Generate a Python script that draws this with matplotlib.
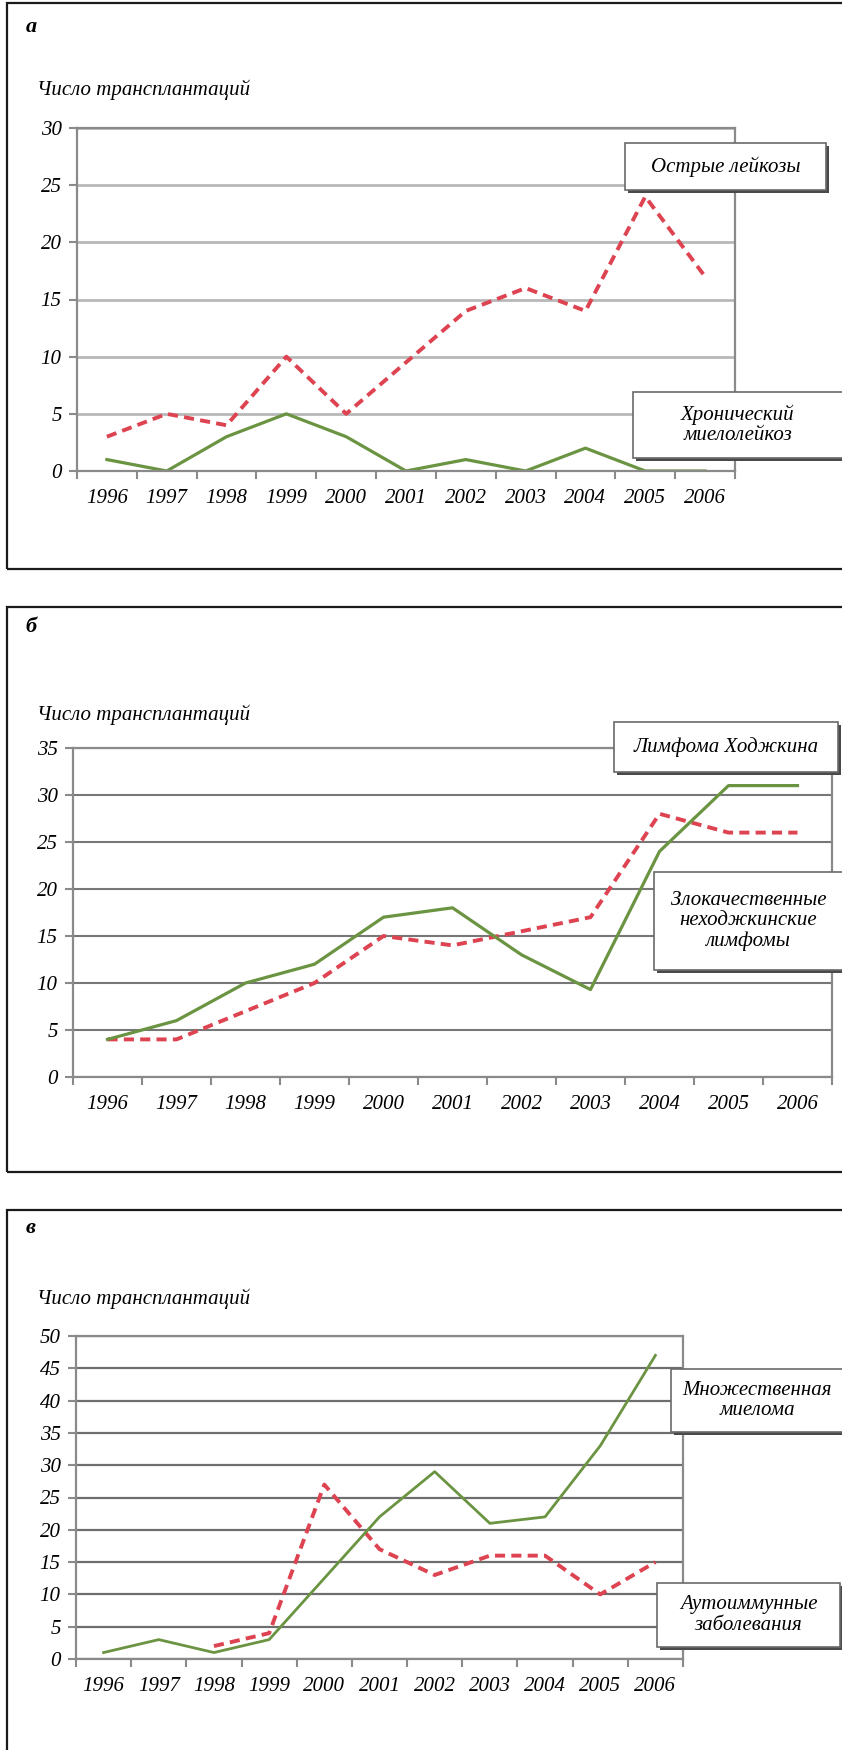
import numpy as np
import matplotlib
matplotlib.use("Agg")
import matplotlib.pyplot as plt
from matplotlib.patches import Rectangle

W, H = 842, 1750
DPI = 100

years = ["1996", "1997", "1998", "1999", "2000", "2001",
         "2002", "2003", "2004", "2005", "2006"]

# panel a
acute_leukemia = [3, 5, 4, 10, 5, 9.5, 14, 16, 14, 24, 17]
cml = [1, 0, 3, 5, 3, 0, 1, 0, 2, 0, 0]
# panel b
hodgkin = [4, 6, 10, 12, 17, 18, 13, 9.3, 24, 31, 31]
nhl = [4, 4, 7, 10, 15, 14, 15.5, 17, 28, 26, 26]
# panel c
myeloma = [1, 3, 1, 3, 12.5, 22, 29, 21, 22, 33, 47]
autoimmune = [np.nan, np.nan, 2, 4, 27, 17, 13, 16, 16, 10, 15]

RED = "#dd4350"
GREEN = "#6b9442"
SERIF = "Liberation Serif"

fig = plt.figure(figsize=(W / DPI, H / DPI), dpi=DPI)
fig.patch.set_facecolor("white")


def px_rect(x0, y0, x1, y1):
    # pixel box (top-left origin) -> figure fraction rect
    return [x0 / W, 1 - y1 / H, (x1 - x0) / W, (y1 - y0) / H]


def frame(y0, y1):
    fig.patches.append(Rectangle((7 / W, 1 - y1 / H), 900 / W, (y1 - y0) / H,
                                 transform=fig.transFigure, fill=False,
                                 edgecolor="#1a1a1a", linewidth=1.6))


def label_box(text, x0, y0, x1, y1):
    # shadow then box
    fig.patches.append(Rectangle(((x0 + 3) / W, 1 - (y1 + 3) / H), (x1 - x0) / W,
                                 (y1 - y0) / H, transform=fig.transFigure,
                                 facecolor="#4a4a4a", edgecolor="none", zorder=5))
    fig.patches.append(Rectangle((x0 / W, 1 - y1 / H), (x1 - x0) / W, (y1 - y0) / H,
                                 transform=fig.transFigure, facecolor="white",
                                 edgecolor="#6a6a6a", linewidth=1.2, zorder=6))
    fig.text((x0 + x1) / 2 / W, 1 - (y0 + y1) / 2 / H, text, ha="center",
             va="center", fontsize=15, family=SERIF, style="italic",
             linespacing=1.1, zorder=7)


def panel(rect, ymax, step, grid_color, grid_lw):
    ax = fig.add_axes(rect)
    x = np.arange(len(years))
    ax.set_xlim(-0.5, len(years) - 0.5)
    ax.set_ylim(0, ymax)
    ax.set_yticks(np.arange(0, ymax + 1, step))
    ax.set_xticks(x)
    ax.set_xticklabels(years)
    ax.set_xticks(np.arange(-0.5, len(years), 1), minor=True)
    ax.tick_params(axis="x", which="major", length=0, pad=13, labelsize=15)
    ax.tick_params(axis="x", which="minor", length=6, width=1.5,
                   color="#8a8a8a", direction="out")
    ax.tick_params(axis="y", length=6, width=1.5, color="#8a8a8a",
                   direction="out", pad=5, labelsize=15)
    for lab in ax.get_xticklabels() + ax.get_yticklabels():
        lab.set_family(SERIF)
        lab.set_style("italic")
    ax.yaxis.grid(True, color=grid_color, linewidth=grid_lw)
    ax.set_axisbelow(True)
    for sp in ax.spines.values():
        sp.set_color("#8a8a8a")
        sp.set_linewidth(1.6)
    return ax, x


def side_text(letter, y_letter, y_title):
    fig.text(31 / W, 1 - y_letter / H, letter, ha="center", va="center",
             fontsize=16, family=SERIF, style="italic", weight="bold")
    fig.text(37 / W, 1 - y_title / H, "Число трансплантаций", ha="left",
             va="center", fontsize=15, family=SERIF, style="italic")


# ---- panel a
frame(3, 569)
side_text("а", 27, 90)
ax, x = panel(px_rect(77, 128, 735, 471), 30, 5, "#b8b8b8", 2.0)
ax.plot(x, acute_leukemia, color=RED, linewidth=2.8, linestyle=(0, (2.6, 1.6)))
ax.plot(x, cml, color=GREEN, linewidth=2.3)
label_box("Острые лейкозы", 625, 143, 826, 190)
label_box("Хронический\nмиелолейкоз", 633, 392, 843, 458)

# ---- panel b
frame(607, 1172)
side_text("б", 627, 715)
ax, x = panel(px_rect(73, 748, 832, 1077), 35, 5, "#777777", 1.5)
ax.plot(x, nhl, color=RED, linewidth=2.8, linestyle=(0, (2.6, 1.6)))
ax.plot(x, hodgkin, color=GREEN, linewidth=2.3)
label_box("Лимфома Ходжкина", 614, 722, 838, 772)
label_box("Злокачественные\nнеходжкинские\nлимфомы", 654, 872, 843, 970)

# ---- panel c
frame(1210, 1800)
side_text("в", 1228, 1299)
ax, x = panel(px_rect(76, 1336, 683, 1659), 50, 5, "#6e6e6e", 1.6)
ax.plot(x, autoimmune, color=RED, linewidth=2.8, linestyle=(0, (2.6, 1.6)))
ax.plot(x, myeloma, color=GREEN, linewidth=2.0)
label_box("Множественная\nмиелома", 671, 1369, 843, 1432)
label_box("Аутоиммунные\nзаболевания", 657, 1583, 840, 1647)

fig.savefig("out.png", dpi=DPI)
